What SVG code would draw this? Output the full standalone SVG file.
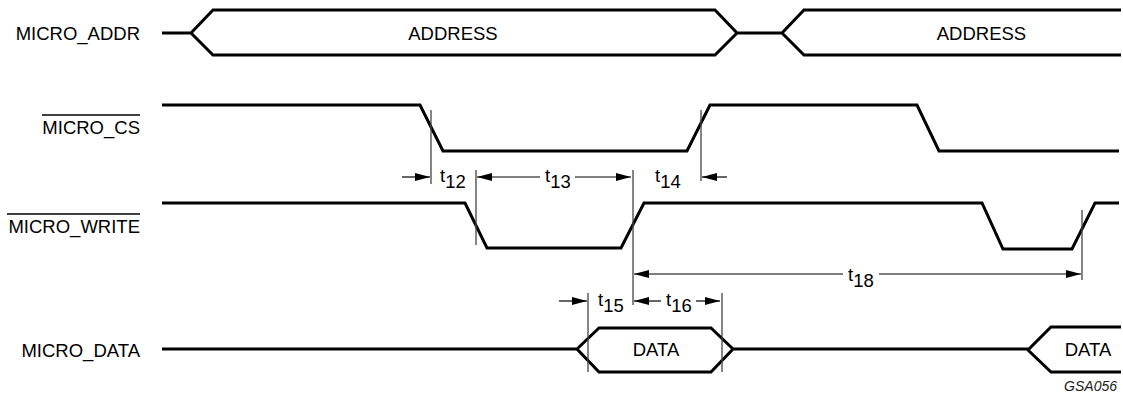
<svg xmlns="http://www.w3.org/2000/svg" width="1123" height="399" viewBox="0 0 1123 399">
<style>
.sig{fill:none;stroke:#000;stroke-width:3;stroke-linejoin:miter}
.mk{stroke:#444;stroke-width:1.3;fill:none}
.ar{stroke:#000;stroke-width:1.2;fill:none}
.lbl{font-family:"Liberation Sans",Arial,sans-serif;font-size:18.5px;fill:#000}
.ov{stroke:#000;stroke-width:1.3}
.tag{font-family:"Liberation Sans",Arial,sans-serif;font-size:14px;font-style:italic;fill:#222}
</style>
<defs>
<marker id="ah" markerUnits="userSpaceOnUse" viewBox="0 0 15 8" refX="15" refY="4" markerWidth="15" markerHeight="8" orient="auto">
<path d="M0,0 L15,4 L0,8 Z" fill="#000"/>
</marker>
</defs>
<rect width="1123" height="399" fill="#fff"/>

<g id="micro_addr">
<text class="lbl" x="140" y="39.5" text-anchor="end">MICRO_ADDR</text>
<path class="sig" d="M162,33 H191 M191,33 L213,10 H715 L737,33 L715,55 H213 Z M737,33 H782 M1121,10 H804 L782,33 L804,55 H1121"/>
<text class="lbl" x="453" y="39.5" text-anchor="middle">ADDRESS</text>
<text class="lbl" x="981.5" y="39.5" text-anchor="middle">ADDRESS</text>
</g>

<g id="micro_cs">
<line class="ov" x1="42" y1="115" x2="140" y2="115"/>
<text class="lbl" x="140" y="134" text-anchor="end">MICRO_CS</text>
<path class="sig" d="M162,105 H420 L443,151 H687 L710,105 H917 L939,151 H1119"/>
</g>

<g id="micro_write">
<line class="ov" x1="7" y1="214" x2="140" y2="214"/>
<text class="lbl" x="140" y="233" text-anchor="end">MICRO_WRITE</text>
<path class="sig" d="M162,203 H465 L487,248 H621 L644,203 H982 L1003,249 H1072 L1095,203 H1119"/>
</g>

<g id="micro_data">
<text class="lbl" x="140" y="357" text-anchor="end">MICRO_DATA</text>
<path class="sig" d="M162,349 H577 M577,349 L599,328 H711 L733,349 L711,372 H599 Z M733,349 H1028 M1121,327 H1051 L1028,350 L1051,372 H1121"/>
<text class="lbl" x="656" y="356" text-anchor="middle">DATA</text>
<text class="lbl" x="1088" y="356" text-anchor="middle">DATA</text>
<text class="tag" x="1117" y="391" text-anchor="end">GSA056</text>
</g>

<g id="connectors">
<line class="mk" x1="431" y1="110" x2="431" y2="184"/>
<line class="mk" x1="476" y1="170" x2="476" y2="245"/>
<line class="mk" x1="633" y1="170" x2="633" y2="305"/>
<line class="mk" x1="701" y1="110" x2="701" y2="181"/>
<line class="mk" x1="1082" y1="210" x2="1082" y2="280"/>
<line class="mk" x1="588" y1="293" x2="588" y2="372"/>
<line class="mk" x1="722" y1="293" x2="722" y2="372"/>

<line class="ar" x1="402" y1="177" x2="430" y2="177" marker-end="url(#ah)"/>
<line class="ar" x1="540" y1="177" x2="477" y2="177" marker-end="url(#ah)"/>
<line class="ar" x1="575" y1="177" x2="631" y2="177" marker-end="url(#ah)"/>
<line class="ar" x1="727" y1="177" x2="702" y2="177" marker-end="url(#ah)"/>
<line class="ar" x1="843" y1="274" x2="634" y2="274" marker-end="url(#ah)"/>
<line class="ar" x1="879" y1="274" x2="1081" y2="274" marker-end="url(#ah)"/>
<line class="ar" x1="559" y1="301" x2="587" y2="301" marker-end="url(#ah)"/>
<line class="ar" x1="661" y1="301" x2="634" y2="301" marker-end="url(#ah)"/>
<line class="ar" x1="696" y1="301" x2="720" y2="301" marker-end="url(#ah)"/>
</g>

<g id="timing_labels">
<text class="lbl" x="440" y="182">t<tspan dy="6">12</tspan></text>
<text class="lbl" x="545" y="182">t<tspan dy="6">13</tspan></text>
<text class="lbl" x="655" y="182">t<tspan dy="6">14</tspan></text>
<text class="lbl" x="848" y="281">t<tspan dy="6">18</tspan></text>
<text class="lbl" x="598" y="306">t<tspan dy="6">15</tspan></text>
<text class="lbl" x="666" y="306">t<tspan dy="6">16</tspan></text>
</g>
</svg>
